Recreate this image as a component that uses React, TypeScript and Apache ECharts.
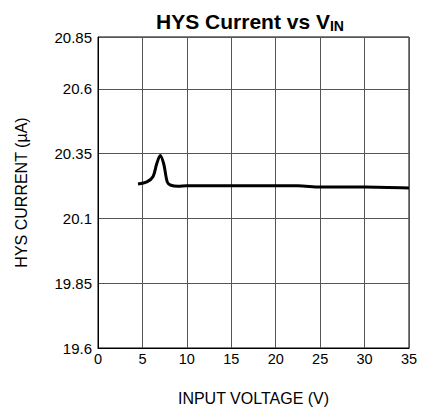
import React, { useEffect, useRef } from "react";
import * as echarts from "echarts";

const inputVoltage = [4.5, 5.5, 6.2, 6.6, 7.0, 7.4, 7.8, 8.2, 9, 10, 15, 20, 22.5, 25, 30, 35];
const hysCurrent = [20.233, 20.241, 20.262, 20.31, 20.343, 20.31, 20.24, 20.228, 20.224, 20.226, 20.226, 20.226, 20.226, 20.221, 20.221, 20.217];
const xTicks = [0, 5, 10, 15, 20, 25, 30, 35];
const yTickLabels: Record<string, string> = {
  "19.6": "19.6",
  "19.85": "19.85",
  "20.1": "20.1",
  "20.35": "20.35",
  "20.6": "20.6",
  "20.8": "20.85",
};

export default function App() {
  const ref = useRef<HTMLDivElement>(null);
  useEffect(() => {
    if (!ref.current) return;
    document.body.style.margin = "0";
    const chart = echarts.init(ref.current, undefined, { renderer: "svg" });
    const font = "Liberation Sans, Arial, sans-serif";
    chart.setOption({
      animation: false,
      title: {
        text: "{a|HYS Current vs V}{b|IN}",
        left: 245,
        textAlign: "center",
        top: 4,
        textStyle: {
          rich: {
            a: { fontSize: 21, fontWeight: "bold", color: "#000", fontFamily: font, lineHeight: 24 },
            b: { fontSize: 14, fontWeight: "bold", color: "#000", fontFamily: font, lineHeight: 24, verticalAlign: "bottom", padding: [10, 0, 0, 0] },
          },
        },
      },
      grid: { left: 98, right: 13, top: 37, bottom: 64, show: true, borderColor: "#000", borderWidth: 1 },
      xAxis: {
        type: "value",
        min: 0,
        max: 35,
        interval: 5,
        name: "INPUT VOLTAGE (V)",
        nameLocation: "middle",
        nameGap: 42,
        nameTextStyle: { fontSize: 16, color: "#000", fontFamily: font },
        axisLine: { show: true, lineStyle: { color: "#000", width: 1 } },
        axisTick: { show: false },
        axisLabel: {
          fontSize: 14.5,
          color: "#000",
          fontFamily: font,
          margin: 3,
          formatter: (v: number) => (xTicks.includes(v) ? String(v) : ""),
        },
        splitLine: { show: true, lineStyle: { color: "#555", width: 1 } },
      },
      yAxis: {
        type: "value",
        min: 19.6,
        max: 20.8,
        interval: 0.25,
        name: "HYS CURRENT (\u00b5A)",
        nameLocation: "middle",
        nameGap: 69,
        nameRotate: 90,
        nameTextStyle: { fontSize: 16, color: "#000", fontFamily: font },
        axisLine: { show: true, lineStyle: { color: "#000", width: 1 } },
        axisTick: { show: false },
        axisLabel: {
          fontSize: 15,
          color: "#000",
          fontFamily: font,
          margin: 6,
          showMaxLabel: true,
          formatter: (v: number) => yTickLabels[String(Math.round(v * 100) / 100)] ?? "",
        },
        splitLine: { show: true, lineStyle: { color: "#555", width: 1 } },
      },
      series: [
        {
          type: "line",
          data: inputVoltage.map((x, i) => [x, hysCurrent[i]]),
          showSymbol: false,
          smooth: 0.3,
          lineStyle: { color: "#000", width: 3 },
        },
      ],
    });
    return () => chart.dispose();
  }, []);
  return <div ref={ref} style={{ width: 422, height: 412 }} />;
}
